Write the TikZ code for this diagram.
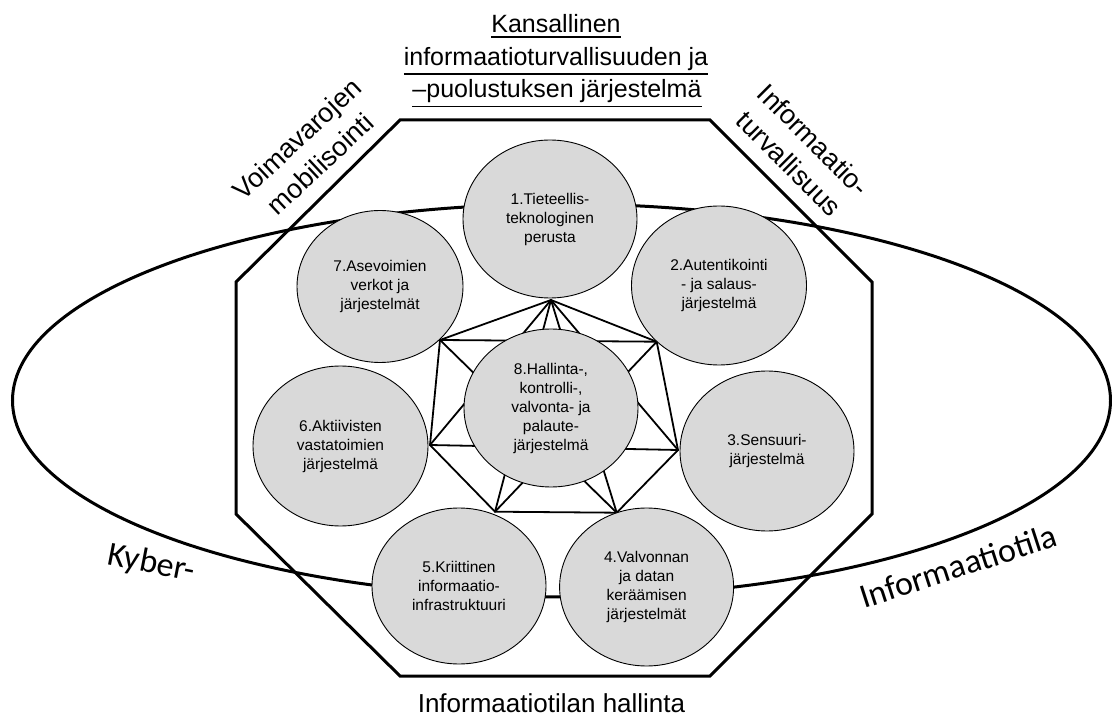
\documentclass[tikz,border=0pt]{standalone}
\usepackage{fontspec}
\setmainfont{Liberation Sans}
\newfontfamily\calibfont{Carlito}
\usetikzlibrary{shapes.geometric}

\definecolor{bubblegray}{HTML}{D9D9D9}

% underline with a fixed gap below the text depth
\newsavebox\ulinebox
\newcommand\ulbar[1]{\sbox\ulinebox{#1}%
  \rlap{\rule[\dimexpr-\dp\ulinebox-4.3pt\relax]{\wd\ulinebox}{1.8pt}}\usebox\ulinebox}

\tikzset{
  heavy/.style={line width=3pt, line join=miter},
  link/.style={line width=1.8pt, line cap=round},
  bubble/.style={ellipse, draw, line width=0.9pt, fill=bubblegray,
    inner sep=0pt, align=center, font=\fontsize{15.5}{19}\selectfont},
  titleline/.style={anchor=base, inner sep=0pt, font=\fontsize{25}{32}\selectfont},
  sidelabel/.style={inner sep=0pt, align=center, font=\fontsize{27}{34}\selectfont},
  spacelabel/.style={anchor=base, inner sep=0pt, font=\calibfont\fontsize{34}{40}\selectfont},
}

\begin{document}
\begin{tikzpicture}[x=1pt, y=-1pt]
\useasboundingbox (0,0) rectangle (1112,719);

% information space (large ellipse)
\draw[heavy] (561.5,400.5) ellipse [x radius=549pt, y radius=196.5pt];

% national system (octagon)
\draw[heavy] (400,120) -- (710,120) -- (872,282) -- (872,514)
  -- (710,676) -- (400,676) -- (236,514) -- (236,282) -- cycle;

% corners of the connection network
\coordinate (vA) at (551,300);
\coordinate (vC) at (656.7,341.7);
\coordinate (vE) at (678,450);
\coordinate (vG) at (616.7,512.7);
\coordinate (vF) at (495,511.7);
\coordinate (vD) at (430,445);
\coordinate (vB) at (440,340);

% outer ring
\draw[link] (vA) -- (vC) -- (vE) -- (vG) -- (vF) -- (vD) -- (vB) -- cycle;
% cross links
\foreach \a/\b in {A/D, A/E, A/F, A/G, B/C, D/E, B/G, C/F}
  \draw[link] (v\a) -- (v\b);

% subsystems
\node[bubble, minimum width=174pt, minimum height=158pt] (c1) at (550,219)
  {1.Tieteellis-\\teknologinen\\perusta};
\node[bubble, minimum width=175pt, minimum height=159pt] (c2) at (719,285.5)
  {2.Autentikointi\\- ja salaus-\\järjestelmä};
\node[bubble, minimum width=174pt, minimum height=160pt] (c3) at (767,451)
  {3.Sensuuri-\\järjestelmä};
\node[bubble, minimum width=174pt, minimum height=158pt] (c4) at (646.6,587)
  {4.Valvonnan\\ja datan\\keräämisen\\järjestelmät};
\node[bubble, minimum width=174pt, minimum height=156pt] (c5) at (459,586)
  {5.Kriittinen\\informaatio-\\infrastruktuuri};
\node[bubble, minimum width=175pt, minimum height=160pt] (c6) at (340.5,446)
  {6.Aktiivisten\\vastatoimien\\järjestelmä};
\node[bubble, minimum width=166pt, minimum height=152pt] (c7) at (380,286.5)
  {7.Asevoimien\\verkot ja\\järjestelmät};
\node[bubble, minimum width=174pt, minimum height=158pt] (c8) at (551,408)
  {8.Hallinta-,\\kontrolli-,\\valvonta- ja\\palaute-\\järjestelmä};

% title
\node[titleline] (t1) at (556,33) {\ulbar{Kansallinen}};
\node[titleline] (t2) at (556,65.5) {\ulbar{informaatioturvallisuuden ja}};
\node[titleline] (t3) at (557,98) {\ulbar{–puolustuksen järjestelmä}};

% diagonal labels
\node[sidelabel, rotate=43] (mob) at (308.5,151.4) {Voimavarojen\\mobilisointi};
\node[sidelabel, rotate=-45] (tur) at (801.5,151.9) {Informaatio-\\turvallisuus};

% space labels
\node[spacelabel, rotate=-11] (kyb) at (150,573) {Kyber-};
\node[spacelabel, rotate=18] (inf) at (962,577) {Informaatiotila};

% bottom label
\node[titleline, font=\fontsize{26}{32}\selectfont] (hal) at (551.5,712)
  {Informaatiotilan hallinta};
\end{tikzpicture}
\end{document}
